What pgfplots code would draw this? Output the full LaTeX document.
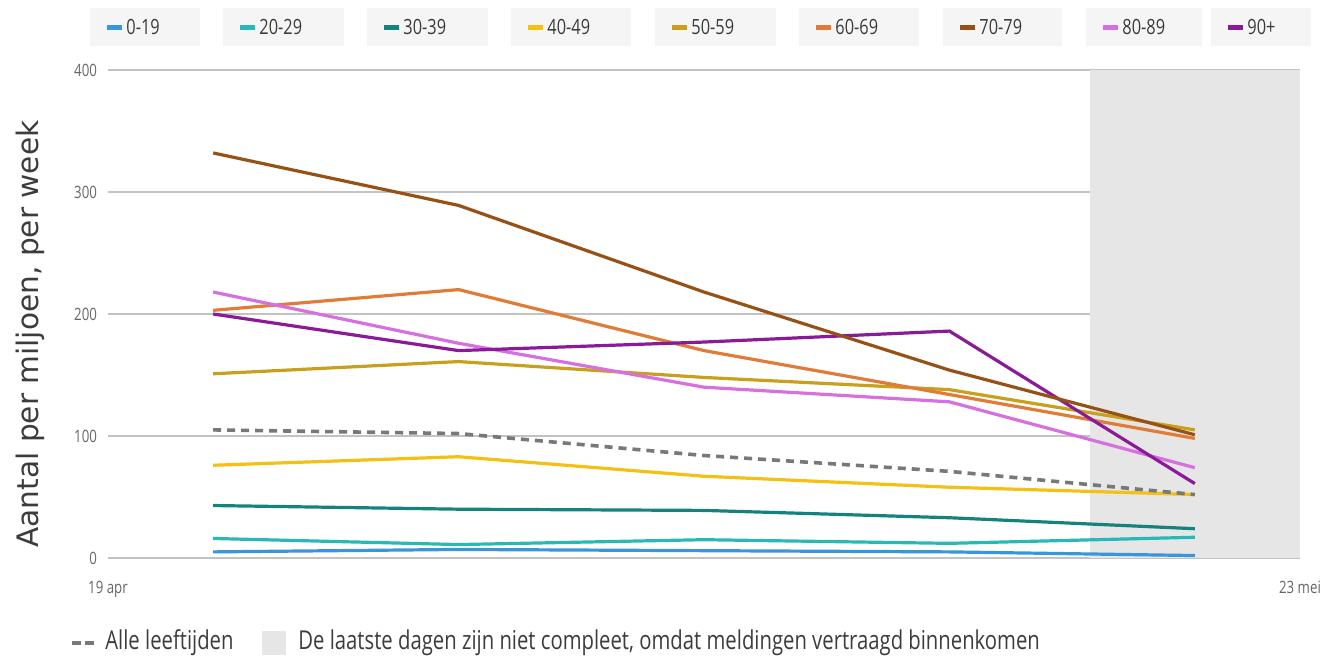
\documentclass[border=0pt]{standalone}
\usepackage{pgfplots}
\pgfplotsset{compat=1.18}
\usepackage{fontspec}
\setmainfont{Open Sans}[FakeStretch=0.78]
\newfontfamily\labelfont{DejaVu Sans}
\definecolor{c0}{RGB}{58,150,218}
\definecolor{c20}{RGB}{42,184,182}
\definecolor{c30}{RGB}{20,130,125}
\definecolor{c40}{RGB}{245,192,20}
\definecolor{c50}{RGB}{200,160,30}
\definecolor{c60}{RGB}{224,124,56}
\definecolor{c70}{RGB}{150,82,22}
\definecolor{c80}{RGB}{214,112,224}
\definecolor{c90}{RGB}{138,26,152}
\definecolor{call}{RGB}{120,120,120}
\definecolor{shadegrey}{RGB}{230,230,230}
\definecolor{legbg}{RGB}{245,245,245}
\definecolor{gridc}{RGB}{195,195,195}
\definecolor{txt}{RGB}{60,60,60}
% pixel -> pt helper: x_pt=(px-108)*0.5, y_pt=(558-py)*0.5
\newcommand{\legitem}[4]{% left px, width px, colour, label
  \fill[legbg] ({(#1-108)*0.5pt},{(558-8)*0.5pt}) rectangle ({(#1+#2-108)*0.5pt},{(558-46)*0.5pt});
  \fill[#3] ({(#1+17-108)*0.5pt},{(558-25)*0.5pt}) rectangle ({(#1+32-108)*0.5pt},{(558-30)*0.5pt});
  \node[anchor=west,inner sep=0pt,text=txt,font=\fontsize{10.5}{12}\selectfont] at ({(#1+36-108)*0.5pt},{(558-27.5)*0.5pt}) {#4};
}
\begin{document}
\begin{tikzpicture}
\path[use as bounding box] (-54pt,-52pt) rectangle (611pt,279pt);
\begin{axis}[
  at={(0,0)}, anchor=south west,
  scale only axis, width=596pt, height=244pt,
  xmin=0, xmax=34, ymin=0, ymax=400,
  axis line style={draw=none},
  ymajorgrids, grid style={gridc, line width=0.7pt},
  xtick={0,34}, xticklabels={19 apr,23 mei},
  ytick={0,100,200,300,400},
  tick style={draw=none},
  separate axis lines, x axis line style={draw=none}, y axis line style={draw=none},
  ticklabel style={text=black!60, font=\fontsize{8.5}{10}\selectfont},
  /pgf/number format/assume math mode=true,
  xticklabel style={yshift=-8pt},
  yticklabel style={xshift=-2pt},
  clip=false,
  every axis plot/.append style={line width=1.6pt, mark=none},
]
\addplot[draw=none, fill=shadegrey] coordinates {(28,0) (34,0) (34,400) (28,400)} -- cycle;
\addplot[c0] coordinates {(3,5) (10,7) (17,6) (24,5) (31,2)};
\addplot[c20] coordinates {(3,16) (10,11) (17,15) (24,12) (31,17)};
\addplot[c30] coordinates {(3,43) (10,40) (17,39) (24,33) (31,24)};
\addplot[c40] coordinates {(3,76) (10,83) (17,67) (24,58) (31,52)};
\addplot[call, line width=1.8pt, dash pattern=on 4pt off 3pt] coordinates {(3,105) (10,102) (17,84) (24,71) (31,52)};
\addplot[c50] coordinates {(3,151) (10,161) (17,148) (24,138) (31,105)};
\addplot[c60] coordinates {(3,203) (10,220) (17,170) (24,134) (31,98)};
\addplot[c80] coordinates {(3,218) (10,176) (17,140) (24,128) (31,74)};
\addplot[c90] coordinates {(3,200) (10,170) (17,177) (24,186) (31,61)};
\addplot[c70] coordinates {(3,332) (10,289) (17,218) (24,154) (31,101)};
\end{axis}
\legitem{90}{110}{c0}{0-19}
\legitem{223}{121}{c20}{20-29}
\legitem{367}{121}{c30}{30-39}
\legitem{511}{120}{c40}{40-49}
\legitem{655}{121}{c50}{50-59}
\legitem{799}{120}{c60}{60-69}
\legitem{943}{119}{c70}{70-79}
\legitem{1086}{116}{c80}{80-89}
\legitem{1211}{100}{c90}{90+}
\node[rotate=90, text=txt, font=\labelfont\fontsize{14.8}{17}\selectfont] at (-39pt,112pt) {Aantal per miljoen, per week};
% bottom legend
\draw[call, line width=2pt, dash pattern=on 4.5pt off 2pt] (-18pt,-42.5pt) -- (-6pt,-42.5pt);
\node[anchor=west, inner sep=0pt, text=txt, font=\fontsize{13}{15}\selectfont] at (-1.5pt,-42.5pt) {Alle leeftijden};
\fill[shadegrey] (77pt,-48.5pt) rectangle (89pt,-36.5pt);
\node[anchor=west, inner sep=0pt, text=txt, font=\fontsize{13}{15}\selectfont] at (95pt,-42.5pt) {De laatste dagen zijn niet compleet, omdat meldingen vertraagd binnenkomen};
\end{tikzpicture}
\end{document}
